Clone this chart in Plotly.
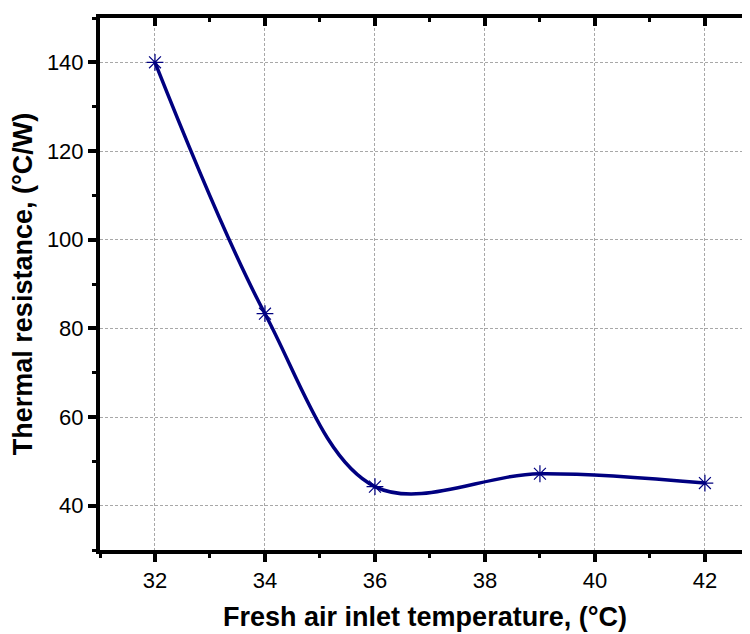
import plotly.graph_objects as go

temps = [32, 34, 36, 39, 42]
resistance = [140, 83.3, 44.3, 47.2, 45.1]
x_ticks = [32, 34, 36, 38, 40, 42]
y_ticks = [40, 60, 80, 100, 120, 140]

navy = "#000080"
fig = go.Figure()
fig.add_trace(go.Scatter(
    x=temps, y=resistance, mode="lines+markers",
    line=dict(color=navy, width=3.5, shape="spline", smoothing=1.0),
    marker=dict(symbol="asterisk-open", size=14, color=navy,
                line=dict(color=navy, width=1.2)),
    showlegend=False))
fig.add_trace(go.Scatter(x=[temps[0]], y=[resistance[0]], xaxis="x2",
                         mode="markers", marker=dict(opacity=0),
                         showlegend=False, hoverinfo="skip"))

xr = [31, 42.82]
yr = [30, 150]
axis_font = dict(family="Arial, Liberation Sans", size=22, color="black")
title_font = dict(family="Arial, Liberation Sans", size=27, color="black")
grid = dict(showgrid=True, gridcolor="#a8a8a8", gridwidth=1, griddash="3px,2px")
fig.update_layout(
    width=742, height=626,
    margin=dict(l=92, r=0, t=10, b=84),
    plot_bgcolor="white", paper_bgcolor="white",
    xaxis=dict(range=xr, tickvals=x_ticks, ticks="outside", ticklen=8,
               tickwidth=4, tickcolor="black", showline=True, linewidth=4,
               linecolor="black", zeroline=False, tickfont=axis_font,
               minor=dict(dtick=1, tick0=31, ticks="outside", ticklen=4,
                          tickwidth=3, tickcolor="black", showgrid=False),
               title=dict(text="<b>Fresh air inlet temperature, (°C)</b>",
                          font=title_font, standoff=16), **grid),
    xaxis2=dict(range=xr, overlaying="x", side="top", tickvals=x_ticks,
                ticks="inside", ticklen=8, tickwidth=4, tickcolor="black",
                showline=True, linewidth=4, linecolor="black",
                showticklabels=False, showgrid=False, zeroline=False,
                minor=dict(dtick=1, tick0=31, ticks="inside", ticklen=4,
                           tickwidth=3, tickcolor="black", showgrid=False)),
    yaxis=dict(range=yr, tickvals=y_ticks, ticks="outside", ticklen=8,
               tickwidth=4, tickcolor="black", showline=True, linewidth=4,
               linecolor="black", zeroline=False, tickfont=axis_font,
               minor=dict(dtick=10, tick0=30, ticks="outside", ticklen=4,
                          tickwidth=3, tickcolor="black", showgrid=False),
               title=dict(text="<b>Thermal resistance, (°C/W)</b>",
                          font=title_font, standoff=10), **grid),
)
fig.write_html("out.html")
